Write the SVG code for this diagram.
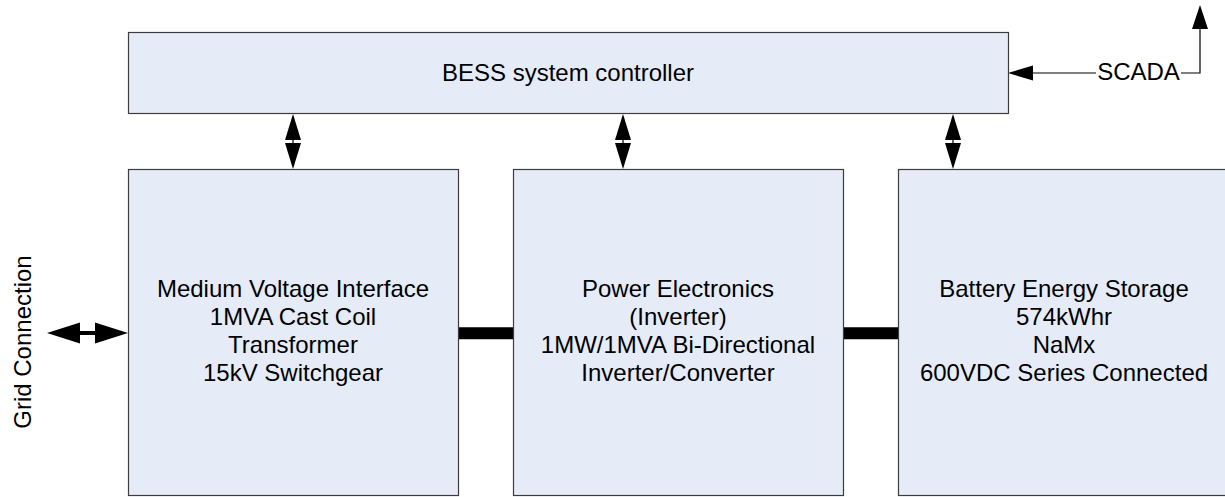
<svg xmlns="http://www.w3.org/2000/svg" width="1225" height="497" viewBox="0 0 1225 497">
<style>
.box{fill:#e6ecf7;stroke:#3c3c3c;stroke-width:1.2}
.t{font-family:"Liberation Sans",Arial,sans-serif;font-size:24px;fill:#000;text-anchor:middle}
.ln{stroke:#000;stroke-width:1.2;fill:none}
.ah{fill:#000;stroke:none}
</style>
<rect width="1225" height="497" fill="#fff"/>
<g id="connectors">
  <!-- controller <-> boxes -->
  <g id="c1">
    <line class="ln" x1="293" y1="139" x2="293" y2="144"/>
    <polygon class="ah" points="293,114 285,140 301,140"/>
    <polygon class="ah" points="285,143 301,143 293,169"/>
  </g>
  <g id="c2">
    <line class="ln" x1="623" y1="139" x2="623" y2="144"/>
    <polygon class="ah" points="623,114 615,140 631,140"/>
    <polygon class="ah" points="615,143 631,143 623,169"/>
  </g>
  <g id="c3">
    <line class="ln" x1="953" y1="139" x2="953" y2="144"/>
    <polygon class="ah" points="953,114 945,140 961,140"/>
    <polygon class="ah" points="945,143 961,143 953,169"/>
  </g>
  <!-- power links -->
  <line x1="458" y1="333.3" x2="513" y2="333.3" stroke="#000" stroke-width="12"/>
  <line x1="843" y1="333.3" x2="898" y2="333.3" stroke="#000" stroke-width="12"/>
  <!-- grid connection -->
  <line x1="78" y1="333" x2="97" y2="333" stroke="#000" stroke-width="4"/>
  <polygon class="ah" points="47,333 80,322.5 80,343.5"/>
  <polygon class="ah" points="95,322.5 128,333 95,343.5"/>
  <!-- SCADA -->
  <line class="ln" x1="1031" y1="73" x2="1096" y2="73"/>
  <polygon class="ah" points="1008,73 1033,65.5 1033,80.5"/>
  <polyline class="ln" points="1181,73 1200,73 1200,28"/>
  <polygon class="ah" points="1200,5 1192,29 1208,29"/>
</g>
<g id="controller">
  <rect class="box" x="128.5" y="32.5" width="880" height="81"/>
  <text class="t" x="568" y="81">BESS system controller</text>
</g>
<g id="mv-interface">
  <rect class="box" x="128.5" y="169.5" width="330" height="326"/>
  <text class="t" x="293" y="297">Medium Voltage Interface</text>
  <text class="t" x="293" y="325">1MVA Cast Coil</text>
  <text class="t" x="293" y="353">Transformer</text>
  <text class="t" x="293" y="381">15kV Switchgear</text>
</g>
<g id="power-electronics">
  <rect class="box" x="513.5" y="169.5" width="330" height="326"/>
  <text class="t" x="678" y="297">Power Electronics</text>
  <text class="t" x="678" y="325">(Inverter)</text>
  <text class="t" x="678" y="353">1MW/1MVA Bi-Directional</text>
  <text class="t" x="678" y="381">Inverter/Converter</text>
</g>
<g id="battery">
  <rect class="box" x="898.5" y="169.5" width="330" height="326"/>
  <text class="t" x="1064" y="297">Battery Energy Storage</text>
  <text class="t" x="1064" y="325">574kWhr</text>
  <text class="t" x="1064" y="353">NaMx</text>
  <text class="t" x="1064" y="381">600VDC Series Connected</text>
</g>
<g id="grid-label">
  <text class="t" transform="translate(31,342) rotate(-90)">Grid Connection</text>
</g>
<g id="scada-label">
  <text class="t" x="1138.5" y="80">SCADA</text>
</g>
</svg>
